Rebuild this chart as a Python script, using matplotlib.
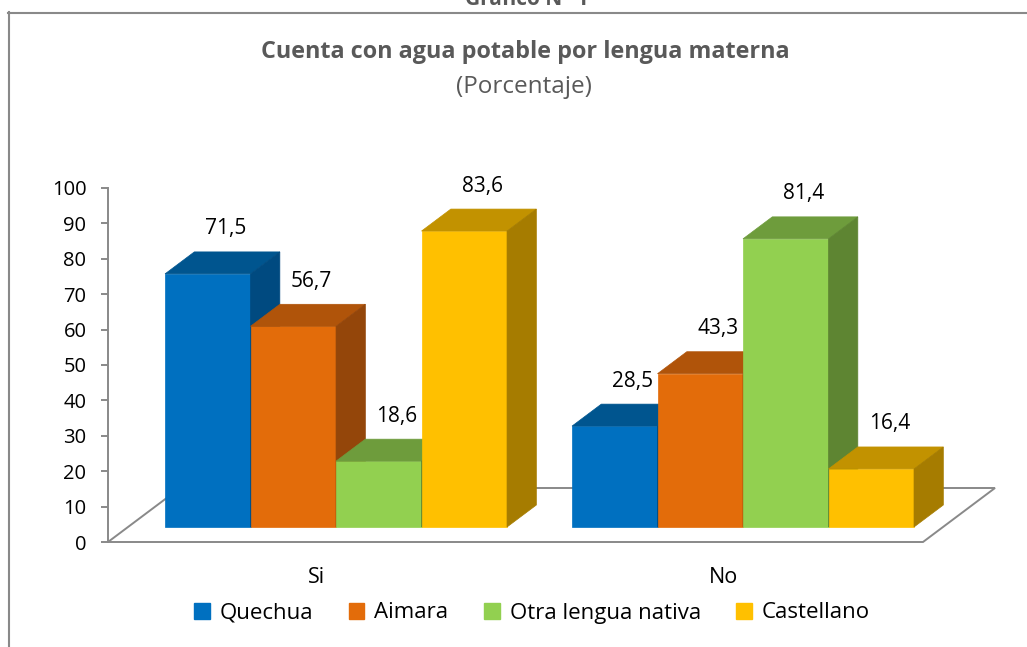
import matplotlib
matplotlib.use('Agg')
import matplotlib.pyplot as plt
from matplotlib.patches import Polygon, Patch
from matplotlib.lines import Line2D

plt.rcParams['font.family'] = ['Open Sans', 'DejaVu Sans']

# datos (porcentaje)
categories = ['Si', 'No']
series = ['Quechua', 'Aimara', 'Otra lengua nativa', 'Castellano']
quechua = [71.5, 28.5]
aimara = [56.7, 43.3]
otra = [18.6, 81.4]
castellano = [83.6, 16.4]
yticks = [0, 10, 20, 30, 40, 50, 60, 70, 80, 90, 100]

# colores: frente, tapa, lado
front_col = ['#0070C0', '#E36C0A', '#92D050', '#FFC000']
top_col = ['#00558F', '#B0540A', '#6E9C3C', '#C29200']
side_col = ['#004A80', '#94460A', '#5E8532', '#A67C00']

W, H = 1027, 647
gray = '#898989'
txt_gray = '#595959'

fig = plt.figure(figsize=(W / 100, H / 100), dpi=100)
ax = fig.add_axes([108 / W, (H - 542) / H, (1010 - 108) / W, (542 - 188) / H])
bar_px = 85.5
ypx = (542 - 188) / 100.0
ax.set_xlim(0, (1010 - 108) / bar_px)
ax.set_ylim(0, 100)

# profundidad del piso y de las barras
ddx = 72 / bar_px
ddy = 54 / ypx
f0 = 0.278
fb = 0.407
bdx, bdy = fb * ddx, fb * ddy
floor_w = (923 - 108) / bar_px
group_start = [0.433, 5.193]

floor = Polygon([(0, 0), (floor_w, 0), (floor_w + ddx, ddy), (ddx, ddy)],
                closed=True, facecolor='white', edgecolor=gray, lw=1.4,
                clip_on=False, zorder=1)
ax.add_patch(floor)

data = [quechua, aimara, otra, castellano]
z = 2
for g, cat in enumerate(categories):
    for i, vals in enumerate(data):
        v = vals[g]
        x0 = group_start[g] + i + f0 * ddx
        y0 = f0 * ddy
        faces = [
            ([(x0, y0), (x0 + 1, y0), (x0 + 1, y0 + v), (x0, y0 + v)], front_col[i]),
            ([(x0, y0 + v), (x0 + 1, y0 + v), (x0 + 1 + bdx, y0 + v + bdy),
              (x0 + bdx, y0 + v + bdy)], top_col[i]),
            ([(x0 + 1, y0), (x0 + 1 + bdx, y0 + bdy), (x0 + 1 + bdx, y0 + v + bdy),
              (x0 + 1, y0 + v)], side_col[i]),
        ]
        for pts, c in faces:
            ax.add_patch(Polygon(pts, closed=True, facecolor=c, edgecolor=c,
                                 lw=0.5, clip_on=False, zorder=z))
        z += 1
        ax.text(x0 + 0.5 + 0.21, y0 + v + bdy + 6.5, f'{v:.1f}'.replace('.', ','),
                ha='center', va='center', fontsize=15, color='black', zorder=50)
    ax.text(group_start[g] + 2, -9.9, cat, ha='center', va='center',
            fontsize=15.5, color='black')

for s in ['top', 'right', 'bottom']:
    ax.spines[s].set_visible(False)
ax.spines['left'].set_color(gray)
ax.spines['left'].set_linewidth(1.4)
ax.spines['left'].set_bounds(0, 100)
ax.set_yticks(yticks)
ax.set_xticks([])
ax.tick_params(axis='y', direction='out', length=5, width=1.4, color=gray,
               labelsize=14.5, pad=10.5, labelcolor='black')
ax.patch.set_visible(False)

handles = [Patch(facecolor=c, edgecolor=c) for c in front_col]
fig.legend(handles, series, loc='center', bbox_to_anchor=(532 / W, 1 - 613 / H),
           ncol=4, frameon=False, fontsize=16, handlelength=0.7, handleheight=0.7,
           handletextpad=0.45, columnspacing=1.6, borderpad=0, borderaxespad=0)

fig.text(525 / W, 1 - 52 / H, 'Cuenta con agua potable por lengua materna',
         ha='center', va='center', fontsize=16.8, fontweight='bold', color=txt_gray)
fig.text(524 / W, 1 - 87 / H, '(Porcentaje)', ha='center', va='center',
         fontsize=17.5, color=txt_gray)
fig.text(527 / W, 1 - 5 / H, 'Gráfico N° 1', ha='center', va='baseline',
         fontsize=15, fontweight='bold', color=txt_gray)

# marco
fig.add_artist(Line2D([8 / W, 1], [1 - 12.5 / H] * 2, color=gray, lw=1.5))
fig.add_artist(Line2D([8.5 / W] * 2, [0, 1 - 12 / H], color=gray, lw=1.5))

fig.savefig('out.png', dpi=100)
